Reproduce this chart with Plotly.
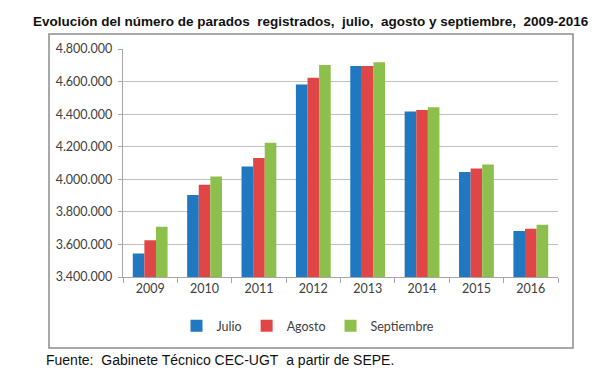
import plotly.graph_objects as go

years = ["2009", "2010", "2011", "2012", "2013", "2014", "2015", "2016"]
julio = [3544000, 3904000, 4078000, 4582000, 4695000, 4416000, 4044000, 3682000]
agosto = [3626000, 3966000, 4130000, 4623000, 4695000, 4426000, 4066000, 3696000]
septiembre = [3708000, 4017000, 4224000, 4701000, 4719000, 4443000, 4091000, 3721000]
series_names = ["Julio", "Agosto", "Septiembre"]
colors = ["#1F78C0", "#E04646", "#8CBF4B"]

title = "Evolución del número de parados&nbsp; registrados,&nbsp; julio,&nbsp; agosto y septiembre,&nbsp; 2009-2016"
source = "Fuente:&nbsp; Gabinete Técnico CEC-UGT&nbsp; a partir de SEPE."

fig = go.Figure()
for name, vals, col in zip(series_names, [julio, agosto, septiembre], colors):
    fig.add_trace(go.Bar(x=years, y=vals, name=name, marker=dict(color=col, line=dict(width=0))))

L, R, T, B = 115, 50, 41, 103
W, H = 600, 372
pw, ph = W - L - R, H - T - B

def px(x):
    return (x - L) / pw

def py(y):
    return (H - B - y) / ph

fig.update_layout(
    width=W, height=H,
    margin=dict(l=L, r=R, t=T, b=B, pad=0),
    paper_bgcolor="white", plot_bgcolor="white",
    separators=",.",
    barmode="group", bargap=0.36, bargroupgap=0,
    font=dict(family="Lato, Arial, sans-serif", color="#404040"),
    showlegend=True,
    legend=dict(orientation="h", x=px(300), xanchor="center", y=py(318), yanchor="middle",
                font=dict(size=12.5, color="#404040"), itemwidth=30, bgcolor="rgba(0,0,0,0)"),
    xaxis=dict(type="category", showgrid=False, showline=True, linecolor="#A6A6A6", linewidth=1,
               ticks="outside", tickson="boundaries", ticklen=5, tickcolor="#A6A6A6",
               tickfont=dict(size=12.5, color="#404040"), fixedrange=True),
    yaxis=dict(range=[3400000, 4800000], dtick=200000, tickformat=",d", showgrid=True,
               gridcolor="#C0C0C0", gridwidth=1, showline=True, linecolor="#A6A6A6", linewidth=1,
               ticks="outside", ticklen=4, tickcolor="#A6A6A6", zeroline=False,
               ticksuffix="\u00a0",
               tickfont=dict(size=12.5, color="#404040"), fixedrange=True),
    shapes=[dict(type="rect", xref="paper", yref="paper", x0=px(41), x1=px(565), y0=py(340), y1=py(26),
                 line=dict(color="#8C8C8C", width=1.5), fillcolor="rgba(0,0,0,0)", layer="below")],
    annotations=[
        dict(text="<b>" + title + "</b>", xref="paper", yref="paper", x=px(303), y=py(13),
             xanchor="center", yanchor="middle", showarrow=False,
             font=dict(family="Liberation Sans, Arial, sans-serif", size=13.5, color="#111111")),
        dict(text=source, xref="paper", yref="paper", x=px(36), y=py(352),
             xanchor="left", yanchor="middle", showarrow=False,
             font=dict(family="Liberation Sans, Arial, sans-serif", size=14, color="#111111")),
    ],
)

fig.write_html("out.html")
